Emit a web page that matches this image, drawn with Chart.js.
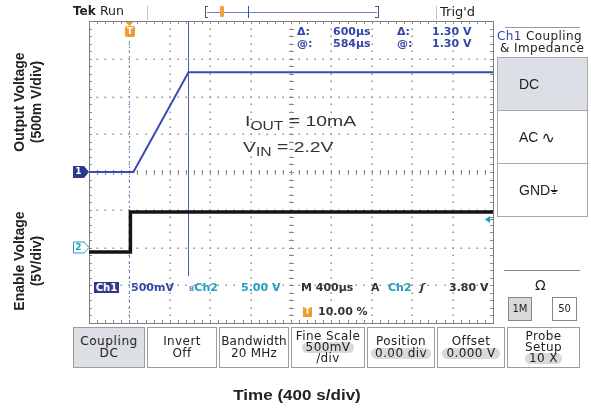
<!DOCTYPE html>
<html><head><meta charset="utf-8">
<script src="https://cdn.jsdelivr.net/npm/chart.js@4.4.1/dist/chart.umd.min.js"></script>
<style>
html,body{margin:0;padding:0;background:#fff;}
#wrap{position:relative;width:591px;height:409px;overflow:hidden;font-family:"DejaVu Sans",sans-serif;color:#222;}
#c{position:absolute;left:0;top:0;}
.t{position:absolute;white-space:nowrap;line-height:1;}
.ro{font-weight:bold;font-size:11px;color:#3445a8;}
.cy{color:#1f9fc4;}
.dk{color:#333;}
.btn{position:absolute;box-sizing:border-box;border:1px solid #9c9c9c;background:#fff;text-align:center;font-size:12px;letter-spacing:0.4px;line-height:11.5px;display:flex;flex-direction:column;justify-content:center;align-items:center;color:#222;}
.pill{display:inline-block;background:#d9d9d9;border-radius:6px;padding:0 4px;}
.pbtn{position:absolute;box-sizing:border-box;border:1px solid #a8a8a8;font-family:"Liberation Sans",Arial,sans-serif;font-size:14px;display:flex;align-items:center;padding-left:21px;color:#222;}
.ttl{position:absolute;font-family:"Liberation Sans",Arial,sans-serif;font-weight:bold;color:#222;text-align:center;white-space:nowrap;}
.ann{position:absolute;white-space:nowrap;line-height:1;font-family:"Liberation Sans",Arial,sans-serif;font-size:15.5px;color:#333;transform:scaleX(1.25);transform-origin:0 0;}
.ann sub{font-size:12.5px;vertical-align:-4px;line-height:1;}
</style></head>
<body><div id="wrap">
<canvas id="c" width="591" height="409"></canvas>

<!-- top bar -->
<div class="t" style="left:73px;top:5px;font-weight:bold;font-size:12px;">Tek</div>
<div class="t" style="left:100px;top:5px;font-size:12.5px;">Run</div>
<div style="position:absolute;left:147px;top:6px;width:1px;height:14px;background:#c4c4c4;"></div>
<div style="position:absolute;left:205px;top:6px;width:172px;height:12px;border-left:1px solid #555;border-right:1px solid #555;"></div>
<div style="position:absolute;left:205px;top:6px;width:3px;height:1px;background:#555;"></div>
<div style="position:absolute;left:205px;top:17px;width:3px;height:1px;background:#555;"></div>
<div style="position:absolute;left:375px;top:6px;width:3px;height:1px;background:#555;"></div>
<div style="position:absolute;left:375px;top:17px;width:3px;height:1px;background:#555;"></div>
<div style="position:absolute;left:207px;top:12px;width:170px;height:1px;background:#6a7dc8;"></div>
<div style="position:absolute;left:220px;top:6px;width:4px;height:11px;background:#f0a040;border-radius:1px;"></div>
<div style="position:absolute;left:248px;top:6px;width:1px;height:12px;background:#3d4fb5;"></div>
<div style="position:absolute;left:436px;top:6px;width:1px;height:14px;background:#c4c4c4;"></div>
<div class="t" style="left:440px;top:5px;font-size:13px;">Trig'd</div>

<!-- cursor readouts -->
<div class="t ro" style="left:297px;top:26px;">Δ:</div>
<div class="t ro" style="left:333px;top:26px;">600µs</div>
<div class="t ro" style="left:397px;top:26px;">Δ:</div>
<div class="t ro" style="left:432px;top:26px;">1.30 V</div>
<div class="t ro" style="left:297px;top:38px;">@:</div>
<div class="t ro" style="left:333px;top:38px;">584µs</div>
<div class="t ro" style="left:397px;top:38px;">@:</div>
<div class="t ro" style="left:432px;top:38px;">1.30 V</div>

<!-- annotation -->
<div class="ann" style="left:245px;top:113px;">I<sub>OUT</sub> = 10mA</div>
<div class="ann" style="left:243px;top:139px;">V<sub>IN</sub> = 2.2V</div>

<!-- bottom in-grid readouts -->
<div class="t" style="left:94px;top:282px;width:25px;height:11px;background:#2c3a8c;color:#fff;font-weight:bold;font-size:10px;line-height:11px;text-align:center;">Ch1</div>
<div class="t ro" style="left:131px;top:282px;">500mV</div>
<div class="t ro cy" style="left:189px;top:282px;"><span style="font-size:7px;color:#6a7dc8;">B</span>Ch2</div>
<div class="t ro cy" style="left:241px;top:282px;">5.00 V</div>
<div class="t ro dk" style="left:301px;top:282px;">M 400µs</div>
<div class="t ro dk" style="left:371px;top:282px;">A</div>
<div class="t ro cy" style="left:388px;top:282px;">Ch2</div>
<div class="t ro dk" style="left:420px;top:282px;font-style:italic;">ʃ</div>
<div class="t ro dk" style="left:449px;top:282px;">3.80 V</div>
<div class="t" style="left:303px;top:307px;width:9px;height:10px;background:#f09a30;color:#fff;font-weight:bold;font-size:8px;line-height:10px;text-align:center;">T</div>
<div class="t ro dk" style="left:318px;top:306px;">10.00 %</div>

<!-- right panel -->
<div style="position:absolute;left:505px;top:27px;width:75px;height:1px;background:#999;"></div>
<div class="t" style="left:497px;top:30px;font-size:12px;letter-spacing:0.4px;"><span style="color:#3445a8;">Ch1</span> Coupling</div>
<div class="t" style="left:500px;top:42px;font-size:12px;letter-spacing:0.4px;">&amp; Impedance</div>
<div class="pbtn" style="left:497px;top:57px;width:91px;height:54px;background:#dcdfe5;">DC</div>
<div class="pbtn" style="left:497px;top:110px;width:91px;height:54px;background:#fff;">AC <span style="font-family:'DejaVu Sans';font-size:16px;margin-left:3px;">∿</span></div>
<div class="pbtn" style="left:497px;top:163px;width:91px;height:54px;background:#fff;">GND<span style="font-family:'DejaVu Sans';font-size:12px;">⏚</span></div>
<div style="position:absolute;left:504px;top:270px;width:76px;height:1px;background:#888;"></div>
<div class="t" style="left:535px;top:278px;font-size:14px;">Ω</div>
<div class="t" style="left:508px;top:297px;width:24px;height:24px;box-sizing:border-box;border:1px solid #888;background:#d9d9d9;font-size:10px;line-height:22px;text-align:center;">1M</div>
<div class="t" style="left:552px;top:297px;width:25px;height:24px;box-sizing:border-box;border:1px solid #888;background:#fff;font-size:10px;line-height:22px;text-align:center;">50</div>

<!-- bottom menu -->
<div class="btn" style="left:73px;top:327px;width:72px;height:41px;background:#dcdfe4;letter-spacing:0.6px;"><div>Coupling</div><div>DC</div></div>
<div class="btn" style="left:147px;top:327px;width:70px;height:41px;"><div>Invert</div><div>Off</div></div>
<div class="btn" style="left:219px;top:327px;width:70px;height:41px;letter-spacing:0.2px;"><div>Bandwidth</div><div>20 MHz</div></div>
<div class="btn" style="left:291px;top:327px;width:74px;height:41px;line-height:11px;"><div>Fine Scale</div><div><span class="pill">500mV</span></div><div>/div</div></div>
<div class="btn" style="left:367px;top:327px;width:68px;height:41px;"><div>Position</div><div><span class="pill">0.00 div</span></div></div>
<div class="btn" style="left:437px;top:327px;width:68px;height:41px;"><div>Offset</div><div><span class="pill">0.000 V</span></div></div>
<div class="btn" style="left:507px;top:327px;width:73px;height:41px;line-height:11px;"><div>Probe</div><div>Setup</div><div><span class="pill">10 X</span></div></div>

<!-- axis titles -->
<div class="ttl" style="left:-37px;top:85px;width:130px;transform:rotate(-90deg);font-size:14px;line-height:17px;">Output Voltage<br>(500m V/div)</div>
<div class="ttl" style="left:-37px;top:244px;width:130px;transform:rotate(-90deg);font-size:14px;line-height:17px;">Enable Voltage<br>(5V/div)</div>
<div class="ttl" style="left:197px;top:386px;width:200px;font-size:15.5px;transform:scaleX(1.1);">Time (400 s/div)</div>

<!-- channel marker digits -->
<div id="m1" class="t" style="width:11px;text-align:center;font-weight:bold;font-size:9px;color:#fff;">1</div>
<div id="m2" class="t" style="width:11px;text-align:center;font-weight:bold;font-size:9px;color:#1f9fc4;">2</div>
<div id="mT" class="t" style="width:10px;height:11px;background:#f29a2e;border-radius:2px;text-align:center;font-weight:bold;font-size:9px;line-height:11px;color:#fff;">T</div>
</div>
<script>
// ---- data ----
const timeDivsUs = [-400, 0, 400, 800, 1200, 1600, 2000, 2400, 2800, 3200, 3600]; // 400 µs/div
const ch1VoltDivs = [-2, -1.5, -1, -0.5, 0, 0.5, 1, 1.5, 2];                      // 500 mV/div
const ch1TimeUs = [-400, 40, 585, 3600];
const ch1Volts  = [0, 0, 1.32, 1.32];      // Output voltage
const ch2TimeUs = [-400, 10, 10, 3600];
const ch2Volts  = [-0.6, -0.6, 4.7, 4.7];  // Enable voltage
const cursorUs = 584;        // @: 584µs
const triggerUs = 0;         // trigger position (10 %)
const triggerLevelV = 3.80;  // Ch2 trigger level

const toXY = (xs, ys) => xs.map((x, i) => ({x, y: ys[i]}));

const graticule = {
  id: 'graticule',
  beforeDatasetsDraw(chart) {
    const {ctx, chartArea: a, scales} = chart;
    const xS = scales.x, yS = scales.y1;
    const W = a.right - a.left, H = a.bottom - a.top;
    const xs = timeDivsUs.map(v => xS.getPixelForValue(v));
    const ys = ch1VoltDivs.map(v => yS.getPixelForValue(v));
    ctx.save();
    ctx.fillStyle = '#8f8f8f';
    xs.slice(1, -1).forEach(px => {
      for (let k = 1; k < 40; k++) {
        const py = a.top + H * k / 40;
        ctx.fillRect(Math.round(px) - 0.5, Math.round(py) - 0.5, 1.5, 1.5);
      }
    });
    ys.slice(1, -1).forEach(py => {
      for (let k = 1; k < 50; k++) {
        const px = a.left + W * k / 50;
        ctx.fillRect(Math.round(px) - 0.5, Math.round(py) - 0.5, 1.5, 1.5);
      }
    });
    ctx.strokeStyle = '#8a8a8a';
    ctx.lineWidth = 1;
    const cx = Math.round(xS.getPixelForValue(1600)) + 0.5;
    const cy = Math.round(yS.getPixelForValue(0)) + 0.5;
    ctx.beginPath();
    for (let k = 1; k < 50; k++) {
      const px = Math.round(a.left + W * k / 50) + 0.5;
      ctx.moveTo(px, cy - 2.5); ctx.lineTo(px, cy + 2.5);
    }
    for (let k = 1; k < 40; k++) {
      const py = Math.round(a.top + H * k / 40) + 0.5;
      ctx.moveTo(cx - 2.5, py); ctx.lineTo(cx + 2.5, py);
    }
    for (let k = 1; k < 50; k++) {
      const px = Math.round(a.left + W * k / 50) + 0.5;
      ctx.moveTo(px, a.top); ctx.lineTo(px, a.top + 3);
      ctx.moveTo(px, a.bottom); ctx.lineTo(px, a.bottom - 3);
    }
    for (let k = 1; k < 40; k++) {
      const py = Math.round(a.top + H * k / 40) + 0.5;
      ctx.moveTo(a.left, py); ctx.lineTo(a.left + 3, py);
      ctx.moveTo(a.right, py); ctx.lineTo(a.right - 3, py);
    }
    ctx.stroke();
    ctx.strokeStyle = '#7d7d7d';
    ctx.strokeRect(Math.round(a.left) + 0.5, Math.round(a.top) + 0.5, Math.round(W), Math.round(H));
    const tx = Math.round(xS.getPixelForValue(triggerUs)) + 0.5;
    ctx.strokeStyle = '#7486cc';
    ctx.setLineDash([2, 3]);
    ctx.beginPath(); ctx.moveTo(tx, a.top + 20); ctx.lineTo(tx, a.bottom); ctx.stroke();
    ctx.setLineDash([]);
    const ux = Math.round(xS.getPixelForValue(cursorUs)) + 0.5;
    ctx.strokeStyle = '#4a5cbc';
    ctx.beginPath(); ctx.moveTo(ux, a.top); ctx.lineTo(ux, a.bottom - 47); ctx.stroke();
    ctx.fillStyle = '#f29a2e';
    ctx.beginPath(); ctx.moveTo(tx - 4, a.top + 1); ctx.lineTo(tx + 4, a.top + 1); ctx.lineTo(tx, a.top + 5); ctx.fill();
    ctx.restore();
  },
  afterDatasetsDraw(chart) {
    const {ctx, chartArea: a, scales} = chart;
    ctx.save();
    const y1 = scales.y1.getPixelForValue(0);
    ctx.fillStyle = '#2c3a8c';
    ctx.beginPath();
    ctx.moveTo(a.left - 16, y1 - 6); ctx.lineTo(a.left - 5, y1 - 6); ctx.lineTo(a.left, y1);
    ctx.lineTo(a.left - 5, y1 + 6); ctx.lineTo(a.left - 16, y1 + 6); ctx.closePath(); ctx.fill();
    const y2 = scales.y2.getPixelForValue(0);
    ctx.strokeStyle = '#1f9fc4'; ctx.fillStyle = '#fff'; ctx.lineWidth = 1;
    ctx.beginPath();
    ctx.moveTo(a.left - 15.5, y2 - 5.5); ctx.lineTo(a.left - 5, y2 - 5.5); ctx.lineTo(a.left, y2);
    ctx.lineTo(a.left - 5, y2 + 5.5); ctx.lineTo(a.left - 15.5, y2 + 5.5); ctx.closePath(); ctx.fill(); ctx.stroke();
    const ty = Math.round(scales.y2.getPixelForValue(triggerLevelV)) + 0.5;
    ctx.strokeStyle = '#1f9fc4'; ctx.fillStyle = '#1f9fc4';
    ctx.beginPath(); ctx.moveTo(a.right - 8, ty); ctx.lineTo(a.right - 3, ty - 3.5); ctx.lineTo(a.right - 3, ty + 3.5); ctx.closePath(); ctx.fill();
    ctx.beginPath(); ctx.moveTo(a.right - 4, ty); ctx.lineTo(a.right, ty); ctx.stroke();
    ctx.restore();
  }
};

const chart = new Chart(document.getElementById('c'), {
  type: 'scatter',
  data: {
    datasets: [
      {label: 'Enable Voltage', data: toXY(ch2TimeUs, ch2Volts), yAxisID: 'y2', showLine: true,
       borderColor: '#141414', borderWidth: 3.5, pointRadius: 0, borderJoinStyle: 'miter', order: 2},
      {label: 'Output Voltage', data: toXY(ch1TimeUs, ch1Volts), yAxisID: 'y1', showLine: true,
       borderColor: '#3a4cb4', borderWidth: 2, pointRadius: 0, order: 1}
    ]
  },
  options: {
    responsive: false, animation: false, devicePixelRatio: 1,
    layout: {padding: {left: 89, top: 21, right: 98, bottom: 86}},
    plugins: {legend: {display: false}, tooltip: {enabled: false}},
    scales: {
      x: {type: 'linear', min: timeDivsUs[0], max: timeDivsUs[timeDivsUs.length - 1], display: false},
      y1: {type: 'linear', min: ch1VoltDivs[0], max: ch1VoltDivs[ch1VoltDivs.length - 1], display: false},
      y2: {type: 'linear', min: -10, max: 30, display: false}
    }
  },
  plugins: [graticule]
});

const a = chart.chartArea;
const m1 = document.getElementById('m1'), m2 = document.getElementById('m2'), mT = document.getElementById('mT');
m1.style.left = (a.left - 16) + 'px'; m1.style.top = (chart.scales.y1.getPixelForValue(0) - 5) + 'px';
m2.style.left = (a.left - 16) + 'px'; m2.style.top = (chart.scales.y2.getPixelForValue(0) - 5) + 'px';
mT.style.left = (chart.scales.x.getPixelForValue(triggerUs) - 4.5) + 'px'; mT.style.top = (a.top + 5) + 'px';
</script>
</body></html>
